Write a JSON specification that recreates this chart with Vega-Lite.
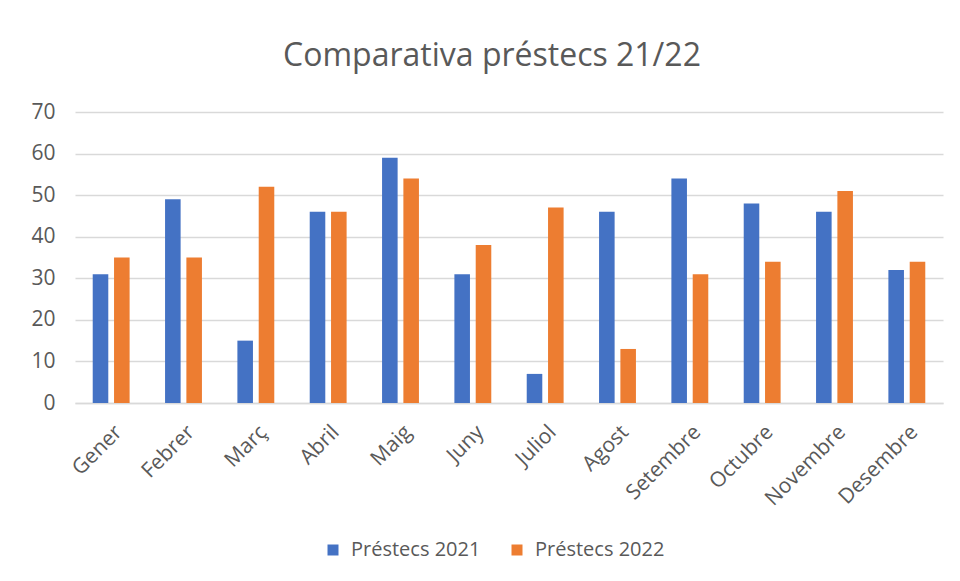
{
  "$schema": "https://vega.github.io/schema/vega-lite/v6.json",
  "autosize": "none",
  "width": 868,
  "height": 291,
  "padding": {"left": 75, "top": 112, "right": 17, "bottom": 178},
  "background": "white",
  "title": {
    "text": "Comparativa préstecs 21/22",
    "fontSize": 32,
    "font": "Open Sans",
    "fontWeight": "normal",
    "color": "#595959",
    "anchor": "middle",
    "baseline": "alphabetic",
    "offset": 3,
    "dx": -17
  },
  "data": {
    "values": [
      {"mes": "Gener", "serie": "Préstecs 2021", "valor": 31},
      {"mes": "Gener", "serie": "Préstecs 2022", "valor": 35},
      {"mes": "Febrer", "serie": "Préstecs 2021", "valor": 49},
      {"mes": "Febrer", "serie": "Préstecs 2022", "valor": 35},
      {"mes": "Març", "serie": "Préstecs 2021", "valor": 15},
      {"mes": "Març", "serie": "Préstecs 2022", "valor": 52},
      {"mes": "Abril", "serie": "Préstecs 2021", "valor": 46},
      {"mes": "Abril", "serie": "Préstecs 2022", "valor": 46},
      {"mes": "Maig", "serie": "Préstecs 2021", "valor": 59},
      {"mes": "Maig", "serie": "Préstecs 2022", "valor": 54},
      {"mes": "Juny", "serie": "Préstecs 2021", "valor": 31},
      {"mes": "Juny", "serie": "Préstecs 2022", "valor": 38},
      {"mes": "Juliol", "serie": "Préstecs 2021", "valor": 7},
      {"mes": "Juliol", "serie": "Préstecs 2022", "valor": 47},
      {"mes": "Agost", "serie": "Préstecs 2021", "valor": 46},
      {"mes": "Agost", "serie": "Préstecs 2022", "valor": 13},
      {"mes": "Setembre", "serie": "Préstecs 2021", "valor": 54},
      {"mes": "Setembre", "serie": "Préstecs 2022", "valor": 31},
      {"mes": "Octubre", "serie": "Préstecs 2021", "valor": 48},
      {"mes": "Octubre", "serie": "Préstecs 2022", "valor": 34},
      {"mes": "Novembre", "serie": "Préstecs 2021", "valor": 46},
      {"mes": "Novembre", "serie": "Préstecs 2022", "valor": 51},
      {"mes": "Desembre", "serie": "Préstecs 2021", "valor": 32},
      {"mes": "Desembre", "serie": "Préstecs 2022", "valor": 34}
    ]
  },
  "mark": {"type": "bar"},
  "encoding": {
    "x": {
      "field": "mes",
      "type": "nominal",
      "sort": null,
      "scale": {"paddingInner": 0.49, "paddingOuter": 0.245},
      "axis": {
        "title": null,
        "labelAngle": -45,
        "labelFontSize": 21,
        "labelFont": "Open Sans",
        "labelColor": "#595959",
        "labelPadding": 18,
        "labelOverlap": false,
        "ticks": false,
        "domain": true,
        "domainColor": "#d9d9d9",
        "domainWidth": 1.5,
        "grid": false
      }
    },
    "xOffset": {
      "field": "serie",
      "type": "nominal",
      "scale": {"paddingInner": 0.27, "paddingOuter": 0}
    },
    "y": {
      "field": "valor",
      "type": "quantitative",
      "scale": {"domain": [0, 70], "nice": false},
      "axis": {
        "title": null,
        "values": [0, 10, 20, 30, 40, 50, 60, 70],
        "labelFontSize": 21,
        "labelFont": "Open Sans",
        "labelColor": "#595959",
        "labelPadding": 20,
        "labelOverlap": false,
        "labelBaseline": "middle",
        "ticks": false,
        "domain": false,
        "grid": true,
        "gridColor": "#d9d9d9",
        "gridWidth": 1.5
      }
    },
    "color": {
      "field": "serie",
      "type": "nominal",
      "scale": {"domain": ["Préstecs 2021", "Préstecs 2022"], "range": ["#4472C4", "#ED7D31"]},
      "legend": {
        "title": null,
        "orient": "none",
        "direction": "horizontal",
        "legendX": 248,
        "legendY": 428,
        "symbolType": "square",
        "symbolSize": 121,
        "symbolStrokeWidth": 0,
        "labelFontSize": 20,
        "labelFont": "Open Sans",
        "labelColor": "#595959",
        "columnPadding": 26,
        "labelOffset": 8
      }
    }
  },
  "config": {
    "view": {"stroke": null}
  }
}
